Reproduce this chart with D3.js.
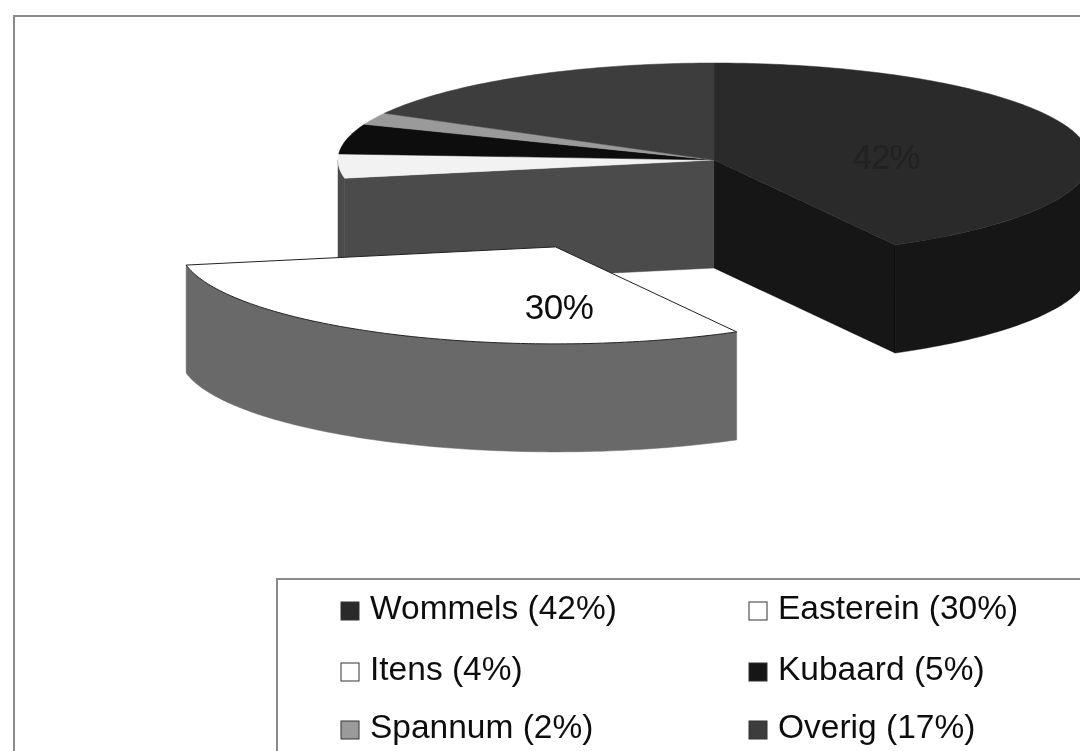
<!DOCTYPE html>
<html>
<head>
<meta charset="utf-8">
<script src="https://cdn.jsdelivr.net/npm/d3@7"></script>
<style>
	html, body { margin: 0; padding: 0; background: #fff; }
	svg { display: block; }
	text { font-family: "Liberation Sans", Arial, sans-serif; }
</style>
</head>
<body>
<div id="wrapper"></div>
<script>
/*data*/
const towns = ["Wommels", "Easterein", "Itens", "Kubaard", "Spannum", "Overig"];
const shares = [42, 30, 4, 5, 2, 17];
const topColors = ["#2b2b2b", "#ffffff", "#f2f2f2", "#101010", "#9a9a9a", "#3d3d3d"];
const wallColors = ["#121212", "#696969", "#4b4b4b", "#0a0a0a", "#555555", "#222222"];
const swatchColors = ["#2b2b2b", "#ffffff", "#ffffff", "#151515", "#9a9a9a", "#3d3d3d"];
const legendOrder = [[0, 1], [2, 3], [4, 5]]; //rows, two columns
const explodedTown = "Easterein";

/*step 1: dimensions*/
const dimensions = {
	width: 1080,
	height: 751,
	cx: 714,
	cy: 160,
	rx: 376,
	ry: 97,
	depth: 108,
	explode: 0.99,
};

/*step 2: canvas*/
const wrapper = d3.select("#wrapper")
	.append("svg")
	.attr("width", dimensions.width)
	.attr("height", dimensions.height);

const defs = wrapper.append("defs");
defs.append("filter").attr("id", "scan")
	.append("feGaussianBlur").attr("stdDeviation", 0.5);

const bounds = wrapper.append("g").attr("filter", "url(#scan)");

// outer frame and legend box run off the page on the right and bottom
bounds.append("rect")
	.attr("x", 14).attr("y", 16)
	.attr("width", 1200).attr("height", 900)
	.style("fill", "none").style("stroke", "#8a8a8a").style("stroke-width", 2);

/*step 3: scales - unit circle to the flattened ellipse*/
const xScale = d3.scaleLinear().domain([-1, 1]).range([dimensions.cx - dimensions.rx, dimensions.cx + dimensions.rx]);
const yScale = d3.scaleLinear().domain([-1, 1]).range([dimensions.cy - dimensions.ry, dimensions.cy + dimensions.ry]);

const slices = d3.pie().sort(null)(shares).map((s, i) => ({
	...s,
	town: towns[i],
	top: topColors[i],
	wall: wallColors[i],
}));

const line = d3.line();

function rim(a0, a1, ox, oy, drop) {
	const n = Math.max(2, Math.ceil(Math.abs(a1 - a0) / 0.02));
	return d3.range(n + 1).map(k => {
		const a = a0 + (a1 - a0) * k / n;
		return [xScale(Math.sin(a)) + ox, yScale(-Math.cos(a)) + oy + drop];
	});
}

function centre(ox, oy, drop) {
	return [xScale(0) + ox, yScale(0) + oy + drop];
}

function offsetOf(s) {
	if (s.town !== explodedTown) return [0, 0];
	const mid = (s.startAngle + s.endAngle) / 2;
	const k = dimensions.explode;
	return [
		xScale(k * Math.sin(mid)) - xScale(0),
		yScale(-k * Math.cos(mid)) - yScale(0),
	];
}

function drawWall(s) {
	// only the near half of the rim shows
	const a0 = Math.max(s.startAngle, Math.PI / 2);
	const a1 = Math.min(s.endAngle, Math.PI * 1.5);
	if (a1 <= a0) return;
	const [ox, oy] = offsetOf(s);
	const upper = rim(a0, a1, ox, oy, 0);
	const lower = rim(a1, a0, ox, oy, dimensions.depth);
	bounds.append("path")
		.attr("d", line(upper.concat(lower)) + "Z")
		.style("fill", s.wall)
		.style("stroke", s.wall)
		.style("stroke-width", 0.5);
}

function drawCut(angle, color) {
	// face left open where the exploded slice came out
	const edge = rim(angle, angle, 0, 0, 0)[0];
	const pts = [
		centre(0, 0, 0),
		edge,
		[edge[0], edge[1] + dimensions.depth],
		centre(0, 0, dimensions.depth),
	];
	bounds.append("path")
		.attr("d", line(pts) + "Z")
		.style("fill", color)
		.style("stroke", color)
		.style("stroke-width", 0.5);
}

function drawTop(s) {
	const [ox, oy] = offsetOf(s);
	const pts = [centre(ox, oy, 0)].concat(rim(s.startAngle, s.endAngle, ox, oy, 0));
	bounds.append("path")
		.attr("d", line(pts) + "Z")
		.style("fill", s.top)
		.style("stroke", s.town === explodedTown ? "#222" : s.top)
		.style("stroke-width", s.town === explodedTown ? 1 : 0.5);
}

/*step 4: draw the pie, back to front*/
const rest = slices.filter(s => s.town !== explodedTown);
const out = slices.find(s => s.town === explodedTown);

drawCut(out.startAngle, wallColors[0]);
drawCut(out.endAngle, wallColors[2]);
rest.forEach(drawWall);
rest.forEach(drawTop);
drawWall(out);
drawTop(out);

/*step 5: labels*/
bounds.append("text")
	.attr("x", 559)
	.attr("y", 319)
	.attr("text-anchor", "middle")
	.style("font-size", "35px")
	.style("letter-spacing", "-0.5px")
	.style("fill", "#111")
	.text(shares[towns.indexOf(explodedTown)] + "%");

// barely readable dark on dark in the scan
bounds.append("text")
	.attr("x", 886)
	.attr("y", 169)
	.attr("text-anchor", "middle")
	.style("font-size", "35px")
	.style("letter-spacing", "-1px")
	.style("fill", "#202020")
	.text(shares[0] + "%");

/*step 6: legend*/
bounds.append("rect")
	.attr("x", 277).attr("y", 579)
	.attr("width", 900).attr("height", 300)
	.style("fill", "#fff").style("stroke", "#8a8a8a").style("stroke-width", 2);

const colX = d3.scaleOrdinal().domain([0, 1]).range([341, 749]);
const rowY = d3.scaleOrdinal().domain([0, 1, 2]).range([619, 680, 738]);

legendOrder.forEach((row, r) => {
	row.forEach((i, c) => {
		const g = bounds.append("g");
		g.append("rect")
			.attr("x", colX(c))
			.attr("y", rowY(r) - 17)
			.attr("width", 18)
			.attr("height", 18)
			.style("fill", swatchColors[i])
			.style("stroke", "#333")
			.style("stroke-width", 1);
		g.append("text")
			.attr("x", colX(c) + 29)
			.attr("y", rowY(r))
			.style("font-size", "33.5px")
			.style("fill", "#111")
			.text(towns[i] + " (" + shares[i] + "%)");
	});
});
</script>
</body>
</html>
